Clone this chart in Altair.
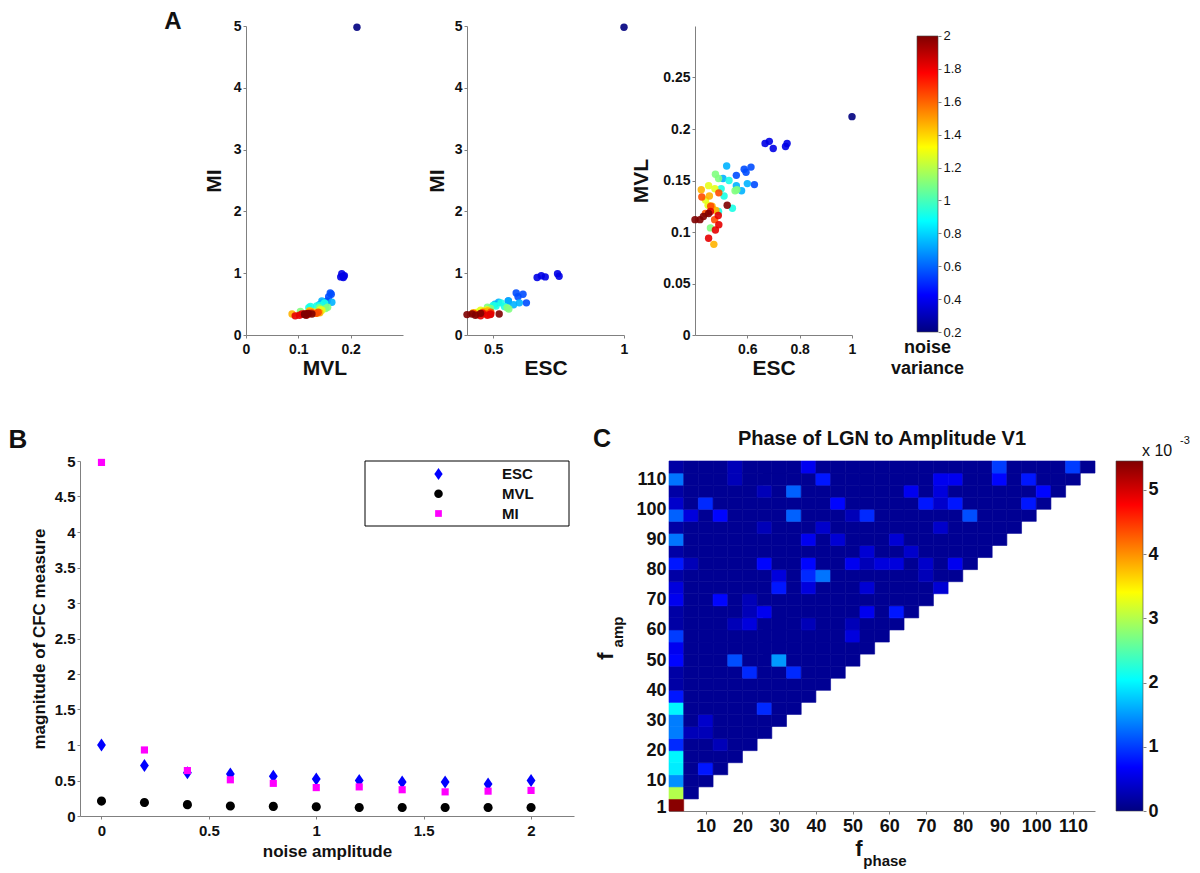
import altair as alt
import pandas as pd

FONT = "Liberation Sans"
GREY = "#808080"
INK = "#111111"

# ---------------- Panel A : per-trial CFC measures ----------------
a_noise = [0.0,
           0.2, 0.2, 0.2, 0.2, 0.2,
           0.4, 0.4, 0.4, 0.4, 0.4,
           0.6, 0.6, 0.6, 0.6, 0.6,
           0.8, 0.8, 0.8, 0.8, 0.8,
           1.0, 1.0, 1.0, 1.0, 1.0,
           1.2, 1.2, 1.2, 1.2, 1.2,
           1.4, 1.4, 1.4, 1.4, 1.4,
           1.6, 1.6, 1.6, 1.6, 1.6,
           1.8, 1.8, 1.8, 1.8, 1.8,
           2.0, 2.0, 2.0, 2.0, 2.0]
a_esc = [1.0,
         0.668, 0.684, 0.699, 0.746, 0.752,
         0.558, 0.588, 0.595, 0.614, 0.627,
         0.507, 0.521, 0.558, 0.578, 0.600,
         0.490, 0.511, 0.530, 0.543, 0.500,
         0.478, 0.490, 0.553, 0.560, 0.459,
         0.452, 0.476, 0.440, 0.470, 0.450,
         0.424, 0.465, 0.472, 0.480, 0.455,
         0.426, 0.491, 0.440, 0.475, 0.460,
         0.489, 0.452, 0.478, 0.459, 0.491,
         0.400, 0.419, 0.432, 0.452, 0.523]
a_mvl = [0.212,
         0.186, 0.188, 0.181, 0.183, 0.186,
         0.155, 0.161, 0.158, 0.163, 0.146,
         0.152, 0.164, 0.145, 0.140, 0.147,
         0.120, 0.135, 0.150, 0.123, 0.142,
         0.156, 0.152, 0.140, 0.141, 0.104,
         0.145, 0.142, 0.131, 0.122, 0.126,
         0.141, 0.125, 0.088, 0.121, 0.135,
         0.134, 0.138, 0.118, 0.112, 0.125,
         0.116, 0.094, 0.102, 0.120, 0.107,
         0.112, 0.112, 0.115, 0.118, 0.126]
a_mi = [4.98,
        0.93, 0.96, 0.94, 0.99, 0.95,
        0.55, 0.68, 0.62, 0.66, 0.52,
        0.50, 0.53, 0.55, 0.49, 0.52,
        0.44, 0.47, 0.52, 0.46, 0.48,
        0.45, 0.43, 0.44, 0.42, 0.38,
        0.40, 0.41, 0.37, 0.39, 0.36,
        0.36, 0.38, 0.34, 0.39, 0.35,
        0.35, 0.37, 0.33, 0.34, 0.36,
        0.33, 0.31, 0.32, 0.35, 0.34,
        0.33, 0.34, 0.32, 0.35, 0.34]
cba_ticks = [0.2, 0.4, 0.6, 0.8, 1.0, 1.2, 1.4, 1.6, 1.8, 2.0]

# ---------------- Panel B : mean measure vs noise amplitude ----------------
b_noise = [0.0, 0.2, 0.4, 0.6, 0.8, 1.0, 1.2, 1.4, 1.6, 1.8, 2.0]
b_esc = [1.0, 0.71, 0.61, 0.59, 0.56, 0.52, 0.50, 0.48, 0.48, 0.45, 0.50]
b_mvl = [0.21, 0.19, 0.16, 0.14, 0.135, 0.13, 0.12, 0.12, 0.12, 0.12, 0.12]
b_mi = [4.98, 0.93, 0.64, 0.51, 0.46, 0.40, 0.41, 0.37, 0.34, 0.35, 0.36]
b_measures = ["ESC", "MVL", "MI"]
b_xticks = [0, 0.5, 1, 1.5, 2]
b_yticks = [0, 0.5, 1, 1.5, 2, 2.5, 3, 3.5, 4, 4.5, 5]

# ---------------- Panel C : comodulogram (values x 1e-3) ----------------
c_freq = [2, 6, 10, 14, 18, 22, 26, 30, 34, 38, 42, 46, 50, 54, 58, 62, 66,
          70, 74, 78, 82, 86, 90, 94, 98, 102, 106, 110, 114]
c_rows = [
    [5.4],
    [3.0, 0.1],
    [1.45, 0.1, 0.1],
    [1.95, 0.1, 0.8, 0.1],
    [2.0, 0.1, 0.1, 0.1, 0.1],
    [0.9, 0.1, 0.1, 0.3, 0.1, 0.1],
    [1.35, 0.3, 0.3, 0.1, 0.1, 0.1, 0.1],
    [1.35, 0.1, 0.4, 0.1, 0.1, 0.1, 0.1, 0.1],
    [2.0, 0.1, 0.1, 0.1, 0.1, 0.1, 0.9, 0.1, 0.1],
    [0.8, 0.1, 0.1, 0.1, 0.1, 0.1, 0.1, 0.1, 0.1, 0.1],
    [0.2, 0.1, 0.1, 0.1, 0.1, 0.1, 0.1, 0.1, 0.1, 0.1, 0.1],
    [0.2, 0.1, 0.1, 0.1, 0.1, 0.9, 0.1, 0.1, 0.9, 0.1, 0.1, 0.1],
    [0.7, 0.1, 0.1, 0.1, 1.1, 0.1, 0.1, 1.5, 0.1, 0.1, 0.1, 0.1, 0.1],
    [0.6, 0.1, 0.1, 0.1, 0.1, 0.1, 0.1, 0.1, 0.1, 0.1, 0.1, 0.1, 0.1, 0.1],
    [1.0, 0.1, 0.1, 0.1, 0.1, 0.1, 0.1, 0.1, 0.1, 0.1, 0.1, 0.1, 0.5, 0.1, 0.1],
    [0.2, 0.1, 0.1, 0.1, 0.3, 0.5, 0.1, 0.1, 0.1, 0.3, 0.1, 0.1, 0.3, 0.1, 0.1, 0.1],
    [0.2, 0.1, 0.1, 0.1, 0.1, 0.3, 0.6, 0.1, 0.1, 0.1, 0.1, 0.1, 0.1, 0.6, 0.1, 0.8, 0.1],
    [0.6, 0.1, 0.1, 0.7, 0.1, 0.3, 0.1, 0.1, 0.1, 0.1, 0.1, 0.1, 0.1, 0.1, 0.1, 0.1, 0.1, 0.1],
    [0.5, 0.1, 0.1, 0.1, 0.1, 0.1, 0.1, 0.8, 0.1, 0.5, 0.1, 0.1, 0.1, 0.45, 0.1, 0.1, 0.1, 0.1, 0.45],
    [0.2, 0.1, 0.1, 0.1, 0.1, 0.1, 0.1, 0.5, 0.1, 0.9, 1.3, 0.1, 0.1, 0.1, 0.1, 0.1, 0.1, 0.3, 0.1, 0.1],
    [0.8, 0.3, 0.1, 0.1, 0.1, 0.1, 0.7, 0.1, 0.1, 0.7, 0.1, 0.1, 0.6, 0.3, 0.5, 0.5, 0.1, 0.4, 0.1, 0.6, 0.1],
    [0.2, 0.1, 0.1, 0.1, 0.1, 0.1, 0.1, 0.1, 0.1, 0.1, 0.1, 0.1, 0.1, 0.45, 0.1, 0.1, 0.4, 0.1, 0.1, 0.1, 0.1, 0.1],
    [1.3, 0.1, 0.1, 0.1, 0.1, 0.1, 0.1, 0.1, 0.1, 0.6, 0.1, 0.45, 0.1, 0.1, 0.1, 0.45, 0.1, 0.1, 0.1, 0.1, 0.1, 0.1, 0.1],
    [0.2, 0.1, 0.1, 0.1, 0.1, 0.1, 0.3, 0.1, 0.1, 0.1, 0.4, 0.1, 0.1, 0.1, 0.1, 0.1, 0.1, 0.1, 0.4, 0.1, 0.1, 0.1, 0.1, 0.1],
    [1.2, 0.5, 0.1, 0.7, 0.1, 0.1, 0.1, 0.1, 1.2, 0.1, 0.1, 0.1, 0.3, 0.9, 0.1, 0.1, 0.1, 0.1, 0.1, 0.1, 1.1, 0.1, 0.1, 0.1, 0.1],
    [0.4, 0.1, 0.9, 0.1, 0.1, 0.1, 0.1, 0.1, 0.1, 0.1, 0.1, 0.7, 0.1, 0.1, 0.1, 0.1, 0.1, 0.8, 0.4, 0.8, 0.1, 0.1, 0.1, 0.1, 0.8, 0.1],
    [0.2, 0.1, 0.1, 0.1, 0.1, 0.1, 0.3, 0.1, 1.2, 0.1, 0.1, 0.1, 0.1, 0.1, 0.1, 0.1, 0.6, 0.1, 0.5, 0.1, 0.1, 0.1, 0.1, 0.1, 0.1, 0.7, 0.1],
    [1.3, 0.1, 0.1, 0.1, 0.3, 0.1, 0.1, 0.1, 0.1, 0.1, 0.8, 0.1, 0.1, 0.1, 0.1, 0.1, 0.1, 0.1, 0.6, 0.6, 0.1, 0.1, 0.7, 0.1, 0.8, 0.1, 0.1, 0.1],
    [0.2, 0.1, 0.1, 0.1, 0.3, 0.1, 0.1, 0.1, 0.1, 0.6, 0.1, 0.1, 0.1, 0.1, 0.1, 0.1, 0.1, 0.1, 0.1, 0.1, 0.1, 0.1, 1.0, 0.1, 0.1, 0.1, 0.1, 1.0, 0.1],
]
c_xticks = [10, 20, 30, 40, 50, 60, 70, 80, 90, 100, 110]
c_yticks = [1, 10, 20, 30, 40, 50, 60, 70, 80, 90, 100, 110]
cbc_ticks = [0, 1, 2, 3, 4, 5]

# ---------------- helpers ----------------
JET_POS = [0.0, 0.125, 0.375, 0.625, 0.875, 1.0]
JET_HEX = ["#000080", "#0000ff", "#00ffff", "#ffff00", "#ff0000", "#800000"]


def jet_scale(lo, hi):
    return alt.Scale(domain=[lo + p * (hi - lo) for p in JET_POS], range=JET_HEX,
                     interpolate="rgb", clamp=True)


def jet_gradient():
    return alt.LinearGradient(gradient="linear", x1=0, x2=0, y1=1, y2=0,
                              stops=[alt.GradientStop(color=c, offset=p)
                                     for p, c in zip(JET_POS, JET_HEX)])


def axis(values, size, title=None, weight="bold", **kw):
    opts = dict(values=values, format="~r", labelFont=FONT, labelFontSize=size,
                labelFontWeight=weight, labelColor=INK, labelOverlap=False,
                labelFlush=False, grid=False, domainColor=GREY, tickColor=GREY,
                tickSize=3, labelPadding=2, titleFont=FONT, titleFontWeight="bold",
                titleColor=INK, title=title)
    opts.update(kw)
    return alt.Axis(**opts)


def label(text, x, y, size, weight="bold", **kw):
    style = dict(font=FONT, fontSize=size, fontWeight=weight, color=INK,
                 align="center", baseline="middle")
    style.update(kw)
    return alt.Chart(pd.DataFrame({"t": [text]})).mark_text(**style).encode(
        text="t:N", x=alt.value(x), y=alt.value(y))


def spacer(w, h):
    return alt.Chart(pd.DataFrame({"t": [""]})).mark_text().encode(
        text="t:N", x=alt.value(0), y=alt.value(0)).properties(width=w, height=h)


# ---------------- Panel A ----------------
a_df = pd.DataFrame({"noise": a_noise, "ESC": a_esc, "MVL": a_mvl, "MI": a_mi})


def scatter(xf, yf, xdom, ydom, xticks, yticks, ytx):
    return alt.Chart(a_df).mark_circle(size=55, opacity=0.9).encode(
        x=alt.X(f"{xf}:Q", scale=alt.Scale(domain=xdom, nice=False, zero=False),
                axis=axis(xticks, 14, xf, titleFontSize=21, titleX=78.5, titleY=33,
                          titleAlign="center", titleBaseline="middle", labelPadding=4)),
        y=alt.Y(f"{yf}:Q", scale=alt.Scale(domain=ydom, nice=False, zero=False),
                axis=axis(yticks, 14, yf, titleFontSize=21, titleX=ytx, titleY=154.5,
                          titleAngle=270, titleAlign="center", titleBaseline="middle")),
        color=alt.Color("noise:Q", scale=jet_scale(0, 2), legend=None),
    ).properties(width=157, height=309)


A1 = scatter("MVL", "MI", [0, 0.3], [0, 5], [0, 0.1, 0.2], [0, 1, 2, 3, 4, 5], -32)
A2 = scatter("ESC", "MI", [0.4, 1], [0, 5], [0.5, 1], [0, 1, 2, 3, 4, 5], -30)
A3 = scatter("ESC", "MVL", [0.4, 1], [0, 0.3], [0.6, 0.8, 1],
             [0, 0.05, 0.1, 0.15, 0.2, 0.25], -54)

S0 = label("A", 164, -4, 24).properties(width=237, height=309)

cba_df = pd.DataFrame({"lo": [cba_ticks[0]], "hi": [cba_ticks[-1]]})
cba_bar = alt.Chart(cba_df).mark_rect(color=jet_gradient(), stroke="#444444",
                                       strokeWidth=0.6).encode(
    x=alt.value(0), x2=alt.value(21),
    y=alt.Y("lo:Q", scale=alt.Scale(domain=[0.1818, 2.0608], nice=False, zero=False),
            axis=axis(cba_ticks, 13, None, weight="normal", orient="right",
                      domain=False, labelPadding=2)),
    y2="hi:Q")
cba_title = label("noise\nvariance", 10.5, 327, 18, baseline="alphabetic",
                  lineBreak="\n", lineHeight=21)
CBA = alt.layer(cba_bar, cba_title).properties(width=21, height=309)

# ---------------- Panel B ----------------
b_df = pd.DataFrame({
    "noise": b_noise + b_noise + b_noise,
    "measure": [b_measures[0]] * len(b_esc) + [b_measures[1]] * len(b_mvl)
               + [b_measures[2]] * len(b_mi),
    "value": b_esc + b_mvl + b_mi,
})
leg_df = pd.DataFrame({"measure": b_measures})
DIAMOND = "M0,-1L0.68,0L0,1L-0.68,0Z"
CIRCLE = "M0.7,0A0.7,0.7,0,1,1,-0.7,0A0.7,0.7,0,1,1,0.7,0Z"
SQUARE = "M-0.55,-0.55L0.55,-0.55L0.55,0.55L-0.55,0.55Z"

b_color = alt.Color("measure:N", scale=alt.Scale(domain=b_measures,
                    range=["#0000ff", "#000000", "#ff00ff"]), legend=None)
b_shape = alt.Shape("measure:N", scale=alt.Scale(domain=b_measures,
                    range=[DIAMOND, CIRCLE, SQUARE]), legend=None)

b_points = alt.Chart(b_df).mark_point(filled=True, opacity=1, strokeWidth=0,
                                      size=169).encode(
    x=alt.X("noise:Q", scale=alt.Scale(domain=[-0.1, 2.2], nice=False, zero=False),
            axis=axis(b_xticks, 15, "noise amplitude", titleFontSize=17, titleX=247,
                      titleY=35, titleAlign="center", titleBaseline="middle",
                      labelPadding=4)),
    y=alt.Y("value:Q", scale=alt.Scale(domain=[0, 5], nice=False, zero=False),
            axis=axis(b_yticks, 15, "magnitude of CFC measure", titleFontSize=17,
                      titleX=-41, titleY=177.5, titleAngle=270, titleAlign="center",
                      titleBaseline="middle")),
    color=b_color,
    shape=b_shape,
)
# legend box and entries (drawn from the same colour / shape scales)
leg_y = alt.Y("measure:N", scale=alt.Scale(type="point", domain=b_measures,
              range=[13, 52.5], padding=0), axis=None)
leg_box = alt.Chart(pd.DataFrame({"t": [""]})).mark_rect(
    fill="#ffffff", stroke="#000000", strokeWidth=1).encode(
    x=alt.value(285), x2=alt.value(489), y=alt.value(0), y2=alt.value(65))
leg_sym = alt.Chart(leg_df).mark_point(filled=True, opacity=1, strokeWidth=0,
                                       size=150).encode(
    x=alt.value(358.5), y=leg_y, color=b_color, shape=b_shape)
leg_txt = alt.Chart(leg_df).mark_text(
    font=FONT, fontSize=15, fontWeight="bold", color=INK, align="left",
    baseline="middle").encode(text="measure:N", x=alt.value(422), y=leg_y)

B = alt.layer(b_points, leg_box, leg_sym, leg_txt).resolve_scale(
    y="independent").properties(width=494, height=355)

SB = label("B", 9, -21, 26).properties(width=71, height=355)

# ---------------- Panel C ----------------
c_records = []
for r, row in enumerate(c_rows):
    for c, v in enumerate(row):
        c_records.append({"fphase": c_freq[c], "famp": c_freq[r], "val": v})
c_df = pd.DataFrame(c_records)

heat = alt.Chart(c_df).transform_calculate(
    x0="datum.fphase - 2", x1="datum.fphase + 2",
    y0="datum.famp - 2", y1="datum.famp + 2",
).mark_rect(strokeWidth=0.6).encode(
    x=alt.X("x0:Q", scale=alt.Scale(domain=[0, 116], nice=False, zero=False),
            axis=axis(c_xticks, 18, None, labelPadding=3)),
    x2="x1:Q",
    y=alt.Y("y0:Q", scale=alt.Scale(domain=[0, 116], nice=False, zero=False),
            axis=axis(c_yticks, 18, None, ticks=False, labelPadding=3)),
    y2="y1:Q",
    color=alt.Color("val:Q", scale=jet_scale(0, 5.45), legend=None),
    stroke=alt.Stroke("val:Q", scale=jet_scale(0, 5.45), legend=None),
)
C = alt.layer(
    heat,
    label("C", -67, -22, 25),
    label("Phase of LGN to Amplitude V1", 213, -22, 20),
    label("f", -63, 195, 22, angle=270),
    label("amp", -51, 171, 15, angle=270),
    label("f", 190, 388, 22),
    label("phase", 216, 400, 15),
).properties(width=426, height=350)

cbc_df = pd.DataFrame({"lo": [0.0], "hi": [5.45]})
cbc_bar = alt.Chart(cbc_df).mark_rect(color=jet_gradient(), stroke="#444444",
                                       strokeWidth=0.6).encode(
    x=alt.value(0), x2=alt.value(27),
    y=alt.Y("lo:Q", scale=alt.Scale(domain=[0, 5.45], nice=False, zero=False),
            axis=axis(cbc_ticks, 18, None, orient="right", domain=False,
                      labelPadding=2)),
    y2="hi:Q")
CBC = alt.layer(
    cbc_bar,
    label("x 10", 26, -10, 16, weight="normal", align="left"),
    label("-3", 64, -20, 11, weight="normal", align="left"),
).properties(width=27, height=350)

# ---------------- layout ----------------
row1 = alt.hconcat(S0, A1, spacer(64, 309), A2, spacer(71, 309), A3,
                   spacer(65, 309), CBA, spacing=0, bounds="flush")
row2 = alt.hconcat(SB, B, spacer(95, 350), C, spacer(21, 350), CBC,
                   spacing=0, bounds="flush")

chart = alt.vconcat(row1, row2, spacing=49).resolve_scale(
    color="independent", shape="independent", stroke="independent"
).properties(
    padding={"left": 0, "top": 2, "right": 0, "bottom": 0}
).configure(font=FONT).configure_view(strokeWidth=0)

chart.save("out.html", embed_options={"renderer": "svg", "actions": False})
